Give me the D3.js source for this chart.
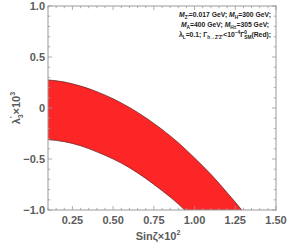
<!DOCTYPE html>
<html>
<head>
<meta charset="utf-8">
<script src="https://cdn.jsdelivr.net/npm/d3@7"></script>
<style>
  body { margin: 0; background: #fff; }
  text { font-family: "Liberation Sans", Arial, sans-serif; }
</style>
</head>
<body>
<div id="chart"></div>
<script>
// boundary of the red band (sinζ×10², λ'3×10³)
const upperS = [0.1, 0.2, 0.3, 0.4, 0.5, 0.6, 0.7, 0.8, 0.9, 1.0, 1.1, 1.2, 1.29];
const upperL = [0.275, 0.255, 0.215, 0.16, 0.09, 0.005, -0.095, -0.21, -0.34, -0.49, -0.65, -0.83, -1.0];
const lowerS = [0.1, 0.2, 0.3, 0.4, 0.5, 0.6, 0.7, 0.8, 0.9, 0.94];
const lowerL = [-0.31, -0.33, -0.37, -0.43, -0.5, -0.585, -0.69, -0.81, -0.94, -1.0];

const xTicks = [0.25, 0.5, 0.75, 1.0, 1.25, 1.5];
const xTickLabels = ["0.25", "0.50", "0.75", "1.00", "1.25", "1.50"];
const yTicks = [-1, -0.5, 0, 0.5, 1];
const yTickLabels = ["\u22121.0", "\u22120.5", "0", "0.5", "1.0"];

const width = 289, height = 246;
const margin = {top: 6, right: 13, bottom: 36, left: 48};

const x = d3.scaleLinear().domain([0.1, 1.5]).range([margin.left, width - margin.right]);
const y = d3.scaleLinear().domain([-1, 1]).range([height - margin.bottom, margin.top]);

const svg = d3.select("#chart").append("svg")
  .attr("width", width)
  .attr("height", height);

const upper = upperS.map((s, i) => [s, upperL[i]]);
const lower = lowerS.map((s, i) => [s, lowerL[i]]);

const smooth = d3.line().x(d => x(d[0])).y(d => y(d[1])).curve(d3.curveMonotoneX);

// band: upper curve left->right, then lower curve back right->left
svg.append("path")
  .attr("d", smooth(upper) + "L" + smooth(lower.slice().reverse()).slice(1) + "Z")
  .attr("fill", "#fd2626")
  .attr("stroke", "none");

// thin dark edges
svg.append("path").attr("d", smooth(upper)).attr("fill", "none").attr("stroke", "#5a1a1a").attr("stroke-width", 0.7);
svg.append("path").attr("d", smooth(lower)).attr("fill", "none").attr("stroke", "#5a1a1a").attr("stroke-width", 0.7);

// frame
const fx0 = x(0.1), fx1 = x(1.5), fy0 = y(1), fy1 = y(-1);
svg.append("rect")
  .attr("x", fx0).attr("y", fy0)
  .attr("width", fx1 - fx0).attr("height", fy1 - fy0)
  .attr("fill", "none").attr("stroke", "#9a9a9a").attr("stroke-width", 1);

// ticks (inside, all four sides)
const xMinor = d3.range(0.1, 1.5001, 0.05).filter(v => !xTicks.some(t => Math.abs(t - v) < 1e-6));
const yMinor = d3.range(-1, 1.0001, 0.1).filter(v => !yTicks.some(t => Math.abs(t - v) < 1e-6));
const tg = svg.append("g").attr("stroke", "#9a9a9a").attr("stroke-width", 0.8);
function xt(vals, len) {
  vals.forEach(v => {
    tg.append("line").attr("x1", x(v)).attr("x2", x(v)).attr("y1", fy1).attr("y2", fy1 - len);
    tg.append("line").attr("x1", x(v)).attr("x2", x(v)).attr("y1", fy0).attr("y2", fy0 + len);
  });
}
function yt(vals, len) {
  vals.forEach(v => {
    tg.append("line").attr("y1", y(v)).attr("y2", y(v)).attr("x1", fx0).attr("x2", fx0 + len);
    tg.append("line").attr("y1", y(v)).attr("y2", y(v)).attr("x1", fx1).attr("x2", fx1 - len);
  });
}
xt(xTicks, 4); xt(xMinor, 2.2);
yt(yTicks, 4); yt(yMinor, 2.2);

// tick labels
svg.append("g").selectAll("text").data(xTicks).join("text")
  .attr("x", d => x(d)).attr("y", fy1 + 14)
  .attr("text-anchor", "middle")
  .attr("font-size", 11).attr("font-weight", "bold").attr("fill", "#5c5c5c")
  .text((d, i) => xTickLabels[i]);

svg.append("g").selectAll("text").data(yTicks).join("text")
  .attr("x", fx0 - 3).attr("y", d => y(d) + 4)
  .attr("text-anchor", "end")
  .attr("font-size", 11).attr("font-weight", "bold").attr("fill", "#5c5c5c")
  .text((d, i) => yTickLabels[i]);

// axis titles
const xl = svg.append("text")
  .attr("x", 158).attr("y", 240)
  .attr("text-anchor", "middle")
  .attr("font-size", 11).attr("font-weight", "bold").attr("fill", "#5c5c5c");
xl.append("tspan").text("Sin\u03b6\u00d710");
xl.append("tspan").attr("font-size", 7).attr("dy", -5).text("2");

const yl = svg.append("text")
  .attr("transform", `translate(20,108) rotate(-90)`)
  .attr("text-anchor", "middle")
  .attr("font-size", 11).attr("font-weight", "bold").attr("fill", "#5c5c5c");
yl.append("tspan").text("\u03bb");
yl.append("tspan").attr("font-size", 7).attr("dy", -5).text("'");
yl.append("tspan").attr("font-size", 7).attr("dy", 8).attr("dx", -2).text("3");
yl.append("tspan").attr("dy", -3).text("\u00d710");
yl.append("tspan").attr("font-size", 7).attr("dy", -5).text("3");

// annotation, level: 0 baseline, 1 subscript, -1 superscript
const ann = svg.append("g").attr("font-size", 6.8).attr("font-weight", "bold").attr("fill", "#222");
const shift = {"0": 0, "1": 1.6, "-1": -2.6};
function addLine(yy, parts) {
  const t = ann.append("text").attr("x", 225).attr("y", yy).attr("text-anchor", "middle");
  let cur = 0;
  parts.forEach(p => {
    const lv = p.lv || 0;
    const ts = t.append("tspan").text(p.t).attr("dy", shift[lv] - cur);
    cur = shift[lv];
    if (p.i) ts.attr("font-style", "italic");
    if (lv !== 0) ts.attr("font-size", 4.8);
    if (p.dx) ts.attr("dx", p.dx);
  });
}
addLine(17, [{t: "M", i: 1}, {t: "Z'", lv: 1}, {t: "=0.017 GeV; "}, {t: "M", i: 1}, {t: "H", lv: 1}, {t: "=300 GeV;"}]);
addLine(27, [{t: "M", i: 1}, {t: "A", lv: 1}, {t: "=400 GeV; "}, {t: "M", i: 1}, {t: "H\u00b1", lv: 1}, {t: "=305 GeV;"}]);
addLine(37, [{t: "\u03bb"}, {t: "L", lv: 1}, {t: "=0.1; \u0393"}, {t: "h\u2192Z'Z'", lv: 1}, {t: "<10"}, {t: "\u22124", lv: -1}, {t: "\u0393"}, {t: "0", lv: -1}, {t: "SM", lv: 1, dx: -2.7}, {t: "(Red);"}]);
</script>
</body>
</html>
